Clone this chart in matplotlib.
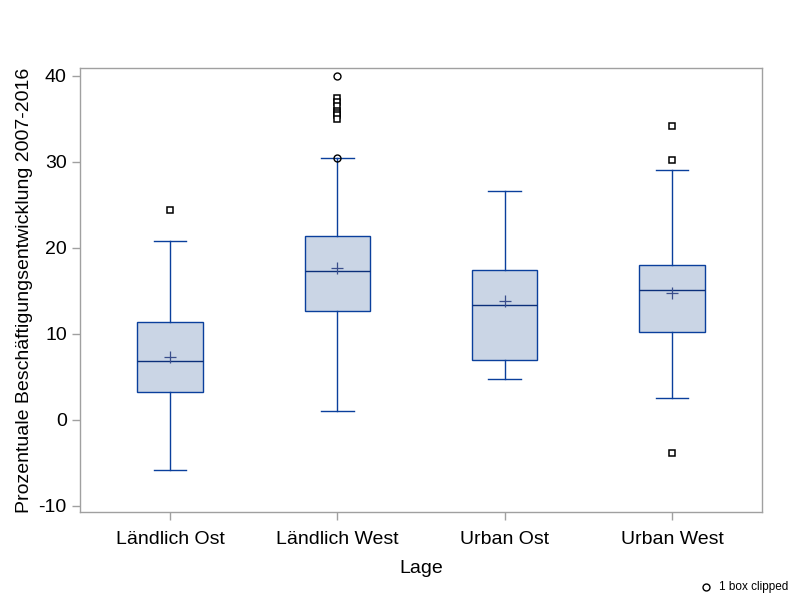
import matplotlib
matplotlib.use("Agg")
import matplotlib.pyplot as plt

plt.rcParams['font.family'] = ['Liberation Sans', 'DejaVu Sans']

categories = ["Ländlich Ost", "Ländlich West", "Urban Ost", "Urban West"]
whislo = [-5.8, 1.0, 4.7, 2.5]
q1 = [3.2, 12.7, 7.0, 10.2]
med = [6.8, 17.3, 13.3, 15.1]
q3 = [11.4, 21.4, 17.4, 18.0]
whishi = [20.8, 30.4, 26.6, 29.0]
means = [7.3, 17.7, 13.8, 14.7]

# outliers: squares, circles (clipped / far)
out_sq = [[24.4], [37.4, 37.0, 36.5, 35.9, 35.7, 35.4, 35.0], [], [34.1, 30.2, -3.9]]
out_ci = [[], [40.0, 30.4], [], []]

edge = '#0A3F9C'
fill = '#CAD5E5'
frame = '#A0A0A0'

stats = []
for i in range(len(categories)):
    stats.append(dict(label=categories[i], whislo=whislo[i], q1=q1[i], med=med[i],
                      q3=q3[i], whishi=whishi[i], mean=means[i], fliers=[]))

fig = plt.figure(figsize=(8, 6), dpi=100)
ax = fig.add_axes([0.1, 0.1467, 0.8525, 0.74])

pos = [1, 2, 3, 4]
ax.bxp(stats, positions=pos, widths=0.39, patch_artist=True, showmeans=True,
       boxprops=dict(facecolor=fill, edgecolor=edge, linewidth=1.0),
       medianprops=dict(color='#0B2F7A', linewidth=1.0),
       whiskerprops=dict(color=edge, linewidth=1.0),
       capprops=dict(color=edge, linewidth=1.0),
       meanprops=dict(marker='+', markeredgecolor='#3A4E8C', markersize=8, markeredgewidth=0.9))

for i in range(len(categories)):
    if out_sq[i]:
        ax.plot([pos[i]] * len(out_sq[i]), out_sq[i], linestyle='none', marker='s',
                markersize=5, markerfacecolor='white', markeredgecolor='black', markeredgewidth=1.1, zorder=5)
    if out_ci[i]:
        ax.plot([pos[i]] * len(out_ci[i]), out_ci[i], linestyle='none', marker='o',
                markersize=5, markerfacecolor='none', markeredgecolor='black', markeredgewidth=1.0, zorder=5)

ax.set_xlim(0.462, 4.538)
ax.set_ylim(-10.7, 40.9)
ax.set_yticks([-10, 0, 10, 20, 30, 40])
ax.set_yticklabels(['-10', '0', '10', '20', '30', '40'])
ax.set_xticks(pos)
ax.set_xticklabels(categories)
for s in ax.spines.values():
    s.set_color(frame)
    s.set_linewidth(1.0)
ax.tick_params(axis='both', colors=frame, labelcolor='black', labelsize=14, length=6, width=1.0)
ax.tick_params(axis='x', pad=8)
ax.set_xlabel("Lage", fontsize=14, labelpad=8)
ax.set_ylabel("Prozentuale Beschäftigungsentwicklung 2007-2016", fontsize=14, labelpad=4)

fig.lines.append(plt.Line2D([0.882], [0.022], transform=fig.transFigure, marker='o', markersize=5,
                            markerfacecolor='none', markeredgecolor='black', linestyle='none'))
fig.text(0.899, 0.022, "1 box clipped", fontsize=8.5, ha='left', va='center')

fig.savefig("out.png", dpi=100)
